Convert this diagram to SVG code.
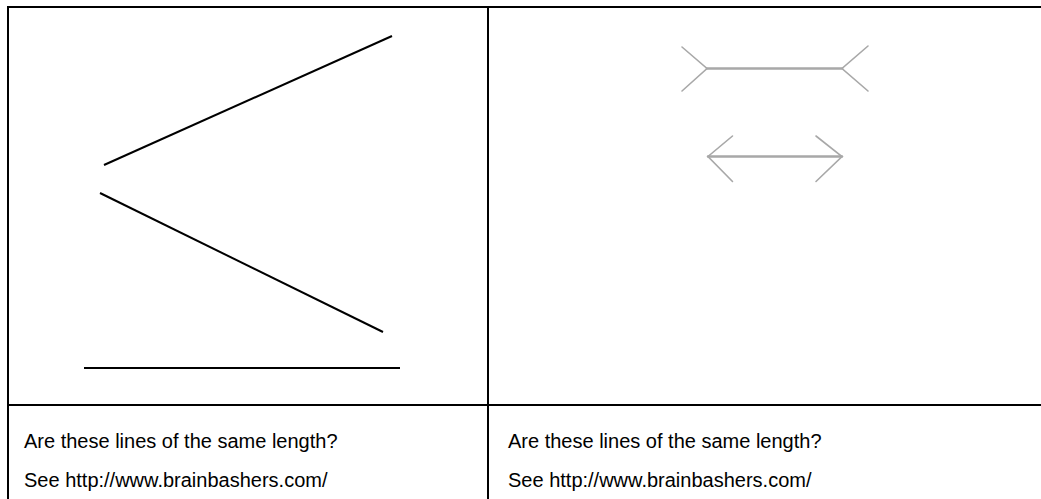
<svg xmlns="http://www.w3.org/2000/svg" width="1041" height="499" viewBox="0 0 1041 499">
<style>
.border{stroke:#000;stroke-width:2;fill:none}
.blk{stroke:#000;stroke-width:2;fill:none;stroke-linecap:butt}
.gray{stroke:#a8a8a8;fill:none;stroke-linecap:round}
.main{stroke-width:2.5}
.fin{stroke-width:1.6}
text{font-family:"Liberation Sans",Arial,sans-serif;font-size:20px;fill:#000}
</style>
<rect width="1041" height="499" fill="#fff"/>
<g id="table">
<line class="border" x1="8" y1="7" x2="1041" y2="7"/>
<line class="border" x1="8" y1="6" x2="8" y2="499"/>
<line class="border" x1="488" y1="7" x2="488" y2="499"/>
<line class="border" x1="8" y1="405" x2="1041" y2="405"/>
</g>
<g id="left-figure">
<line class="blk" x1="104" y1="165" x2="392" y2="36"/>
<line class="blk" x1="100" y1="193" x2="383" y2="332"/>
<line class="blk" x1="84" y1="368" x2="400" y2="368"/>
</g>
<g id="right-figure">
<line class="gray main" x1="707" y1="68.5" x2="842" y2="68.5"/>
<polyline class="gray fin" points="682,47 707,68.5 682,91"/>
<polyline class="gray fin" points="868,46 842,68.5 868,91"/>
<line class="gray main" x1="708" y1="156.5" x2="842" y2="156.5"/>
<polyline class="gray fin" points="732.5,136 708,156.5 732.5,181.5"/>
<polyline class="gray fin" points="816,136 842,156.5 816,181.5"/>
</g>
<g id="captions">
<text x="24" y="448">Are these lines of the same length?</text>
<text x="24" y="487">See http://www.brainbashers.com/</text>
<text x="508" y="448">Are these lines of the same length?</text>
<text x="508" y="487">See http://www.brainbashers.com/</text>
</g>
</svg>
